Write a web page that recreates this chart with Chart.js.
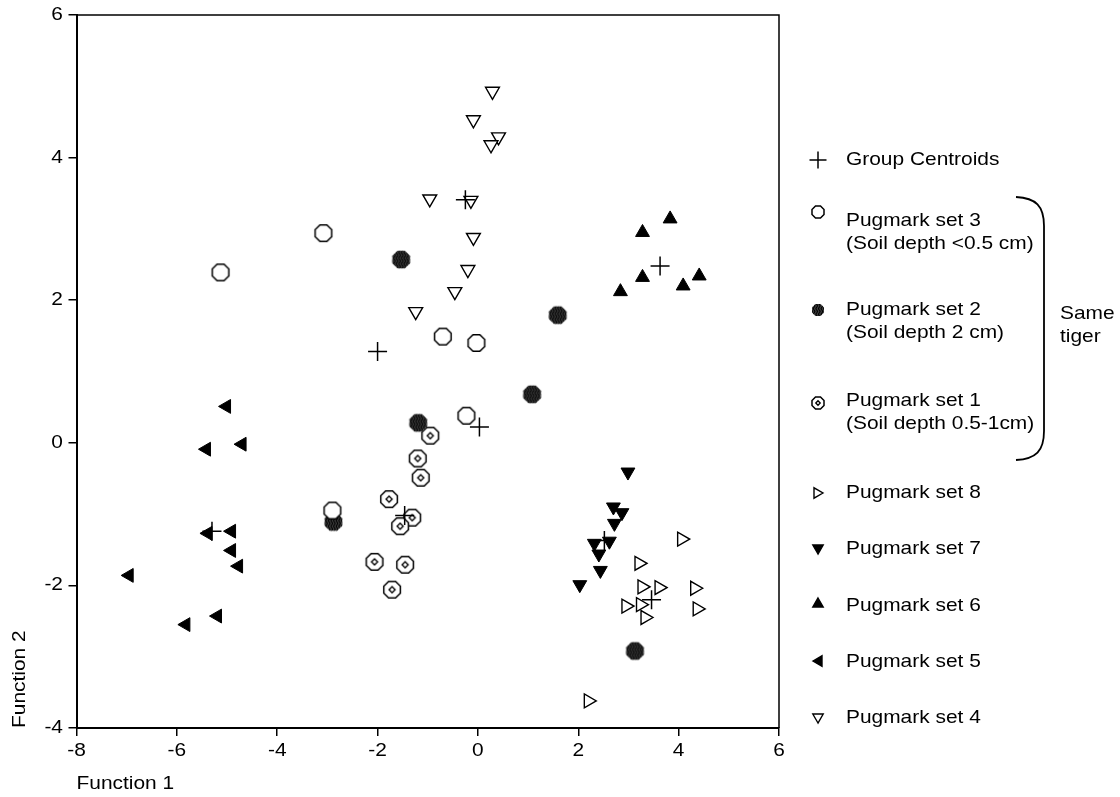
<!DOCTYPE html>
<html>
<head>
<meta charset="utf-8">
<script src="https://cdn.jsdelivr.net/npm/chart.js@4.4.0/dist/chart.umd.min.js"></script>
<style>
  body { margin: 0; background: #fff; }
  #wrap { width: 1120px; height: 797px; position: relative; }
</style>
</head>
<body>
<div id="wrap"><canvas id="ldaChart"></canvas></div>
<script>
// tick labels
const xTicks = [-8, -6, -4, -2, 0, 2, 4, 6];
const yTicks = [-4, -2, 0, 2, 4, 6];

// [Function 1, Function 2] per pugmark
const centroids = [[-2.0, 1.28], [0.03, 0.22], [-1.46, -1.02], [3.46, -2.2], [2.52, -1.37], [3.63, 2.48], [-5.30, -1.24], [-0.25, 3.41]];
const set3 = [[-5.13, 2.39], [-3.08, 2.94], [-0.70, 1.49], [-0.03, 1.40], [-0.23, 0.38], [-2.90, -0.95]];
const set2 = [[-1.53, 2.57], [1.59, 1.79], [1.08, 0.68], [-1.19, 0.28], [-2.88, -1.11], [3.13, -2.92]];
const set1 = [[-0.95, 0.10], [-1.20, -0.22], [-1.14, -0.49], [-1.77, -0.79], [-1.31, -1.05], [-1.55, -1.17], [-2.06, -1.67], [-1.45, -1.71], [-1.71, -2.06]];
const set8 = [[4.06, -1.35], [3.21, -1.69], [3.27, -2.02], [3.61, -2.03], [4.32, -2.04], [2.95, -2.29], [3.24, -2.27], [4.37, -2.33], [3.33, -2.45], [2.20, -3.62]];
const set7 = [[2.99, -0.41], [2.70, -0.90], [2.87, -0.98], [2.72, -1.13], [2.62, -1.38], [2.32, -1.41], [2.41, -1.56], [2.44, -1.79], [2.03, -1.99]];
const set6 = [[3.83, 3.14], [3.28, 2.95], [3.28, 2.32], [4.41, 2.34], [4.09, 2.20], [2.84, 2.12]];
const set5 = [[-5.01, 0.51], [-5.41, -0.09], [-4.70, -0.02], [-5.38, -1.27], [-4.91, -1.24], [-4.91, -1.51], [-4.77, -1.73], [-6.95, -1.86], [-5.19, -2.43], [-5.82, -2.55]];
const set4 = [[0.29, 4.93], [-0.09, 4.53], [0.41, 4.29], [0.26, 4.18], [-0.96, 3.42], [-0.14, 3.40], [-0.09, 2.88], [-0.20, 2.43], [-0.46, 2.12], [-1.24, 1.84]];

const legendLabels = [
  ['Group Centroids'],
  ['Pugmark set 3', '(Soil depth <0.5 cm)'],
  ['Pugmark set 2', '(Soil depth 2 cm)'],
  ['Pugmark set 1', '(Soil depth 0.5-1cm)'],
  ['Pugmark set 8'],
  ['Pugmark set 7'],
  ['Pugmark set 6'],
  ['Pugmark set 5'],
  ['Pugmark set 4']
];

const FONT = '"Liberation Sans", Arial, sans-serif';
const SX = 1.13; // text in the original is a bit wide

const toPts = arr => arr.map(p => ({ x: p[0], y: p[1] }));

// octagon markers
function octPath(ctx, cx, cy, r) {
  ctx.beginPath();
  for (let i = 0; i < 8; i++) {
    const a = Math.PI / 8 + i * Math.PI / 4;
    const px = cx + r * Math.cos(a), py = cy + r * Math.sin(a);
    if (i === 0) ctx.moveTo(px, py); else ctx.lineTo(px, py);
  }
  ctx.closePath();
}

function drawOct(ctx, cx, cy, r, kind) {
  ctx.save();
  octPath(ctx, cx, cy, r);
  ctx.strokeStyle = '#000';
  ctx.lineWidth = 1.5;
  if (kind === 'hatch') {
    ctx.fillStyle = '#3c3c3c';
    ctx.fill();
    ctx.clip();
    ctx.strokeStyle = '#000';
    ctx.lineWidth = 1.1;
    for (let dx = -r; dx <= r; dx += 2.6) {
      ctx.beginPath();
      for (let dy = -r; dy <= r; dy += 1) {
        const wx = cx + dx + Math.sin(dy * 1.1) * 0.8;
        if (dy === -r) ctx.moveTo(wx, cy + dy); else ctx.lineTo(wx, cy + dy);
      }
      ctx.stroke();
    }
  } else {
    ctx.fillStyle = '#fff';
    ctx.fill();
    ctx.stroke();
    if (kind === 'dot') {
      const d = r * 0.34;
      ctx.beginPath();
      ctx.moveTo(cx, cy - d); ctx.lineTo(cx + d, cy); ctx.lineTo(cx, cy + d); ctx.lineTo(cx - d, cy);
      ctx.closePath();
      ctx.lineWidth = 1.3;
      ctx.stroke();
    }
  }
  ctx.restore();
}

function octImage(r, kind) {
  const c = document.createElement('canvas');
  const s = Math.ceil(2 * r + 4);
  c.width = s; c.height = s;
  drawOct(c.getContext('2d'), s / 2, s / 2, r, kind);
  return c;
}

function drawTri(ctx, x, y, r, rot, filled) {
  let a = rot * Math.PI / 180;
  ctx.beginPath();
  for (let i = 0; i < 3; i++) {
    const px = x + Math.sin(a) * r, py = y - Math.cos(a) * r;
    if (i === 0) ctx.moveTo(px, py); else ctx.lineTo(px, py);
    a += 2 * Math.PI / 3;
  }
  ctx.closePath();
  ctx.fillStyle = filled ? '#000' : '#fff';
  ctx.fill();
  ctx.lineWidth = 1.4;
  ctx.strokeStyle = '#000';
  ctx.stroke();
}

function wideText(ctx, txt, x, y, rot) {
  ctx.save();
  ctx.translate(x, y);
  if (rot) ctx.rotate(rot);
  ctx.scale(SX, 1);
  ctx.fillText(txt, 0, 0);
  ctx.restore();
}

const triSet = (label, pts, rot, filled) => ({
  label, data: toPts(pts),
  pointStyle: 'triangle', pointRotation: rot, pointRadius: 8,
  backgroundColor: filled ? '#000' : '#fff', borderColor: '#000', borderWidth: filled ? 1 : 1.4
});
const octSet = (label, pts, r, kind) => ({
  label, data: toPts(pts),
  pointStyle: octImage(r, kind), pointRadius: r
});

// tick labels, legend, titles, frame and bracket
const extras = {
  id: 'extras',
  afterDraw(chart) {
    const ctx = chart.ctx;
    const a = chart.chartArea;
    const sx = chart.scales.x, sy = chart.scales.y;
    ctx.save();
    ctx.strokeStyle = '#000';
    ctx.lineWidth = 1.5;
    ctx.beginPath();
    ctx.moveTo(a.left, a.top); ctx.lineTo(a.right, a.top); ctx.lineTo(a.right, a.bottom);
    ctx.stroke();

    ctx.fillStyle = '#000';
    ctx.font = '18.5px ' + FONT;
    ctx.textBaseline = 'middle';

    // tick labels
    ctx.textAlign = 'center';
    xTicks.forEach(v => wideText(ctx, String(v), sx.getPixelForValue(v), 751));
    ctx.textAlign = 'right';
    yTicks.forEach(v => wideText(ctx, String(v), 63, sy.getPixelForValue(v)));

    ctx.textAlign = 'left';
    wideText(ctx, 'Function 1', a.left, 784);
    wideText(ctx, 'Function 2', 20, a.bottom, -Math.PI / 2);

    // legend markers
    const mx = 818;
    ctx.lineWidth = 1.5;
    ctx.beginPath();
    ctx.moveTo(mx - 8.5, 160); ctx.lineTo(mx + 8.5, 160);
    ctx.moveTo(mx, 151.5); ctx.lineTo(mx, 168.5);
    ctx.stroke();
    drawOct(ctx, mx, 212, 6.5, 'open');
    drawOct(ctx, mx, 310, 6.5, 'hatch');
    drawOct(ctx, mx, 403, 6.5, 'dot');
    drawTri(ctx, mx - 1, 493, 6, 90, false);
    drawTri(ctx, mx, 548, 6, 180, true);
    drawTri(ctx, mx, 604, 6, 0, true);
    drawTri(ctx, mx + 1, 661, 6, 270, true);
    drawTri(ctx, mx, 717, 6, 180, false);

    // legend text
    const rows = [[160], [221, 244], [310, 333], [401, 424], [493], [549], [606], [662], [718]];
    ctx.fillStyle = '#000';
    legendLabels.forEach((lines, i) => {
      lines.forEach((t, j) => wideText(ctx, t, 846, rows[i][j]));
    });

    // bracket
    ctx.lineWidth = 1.8;
    ctx.beginPath();
    ctx.moveTo(1016, 197);
    ctx.bezierCurveTo(1036, 198, 1044, 206, 1044, 226);
    ctx.lineTo(1044, 431);
    ctx.bezierCurveTo(1044, 451, 1036, 459, 1016, 460);
    ctx.stroke();
    wideText(ctx, 'Same', 1060, 314);
    wideText(ctx, 'tiger', 1060, 337);
    ctx.restore();
  }
};

const axisCfg = (ticks, min, max, fit) => ({
  type: 'linear', min, max,
  afterBuildTicks: s => { s.ticks = ticks.map(v => ({ value: v })); },
  afterFit: fit,
  ticks: { display: false },
  grid: { drawOnChartArea: false, drawTicks: true, tickLength: 8, color: '#000', lineWidth: 1.5 },
  border: { display: true, color: '#000', width: 2 }
});

new Chart(document.getElementById('ldaChart'), {
  type: 'scatter',
  data: {
    datasets: [
      { label: 'Group Centroids', data: toPts(centroids), pointStyle: 'cross', pointRadius: 9.5, borderColor: '#000', borderWidth: 1.5 },
      octSet('Pugmark set 3', set3, 9, 'open'),
      octSet('Pugmark set 2', set2, 9.5, 'hatch'),
      octSet('Pugmark set 1', set1, 9, 'dot'),
      triSet('Pugmark set 8', set8, 90, false),
      triSet('Pugmark set 7', set7, 180, true),
      triSet('Pugmark set 6', set6, 0, true),
      triSet('Pugmark set 5', set5, 270, true),
      triSet('Pugmark set 4', set4, 180, false)
    ]
  },
  options: {
    responsive: true,
    maintainAspectRatio: false,
    animation: false,
    layout: { padding: { top: 15, right: 341, bottom: 0, left: 0 } },
    scales: {
      x: axisCfg(xTicks, -8, 6, s => { s.height = 69; }),
      y: axisCfg(yTicks, -4, 6, s => { s.width = 76.5; })
    },
    plugins: {
      legend: { display: false },
      tooltip: { enabled: false }
    }
  },
  plugins: [extras]
});
</script>
</body>
</html>
